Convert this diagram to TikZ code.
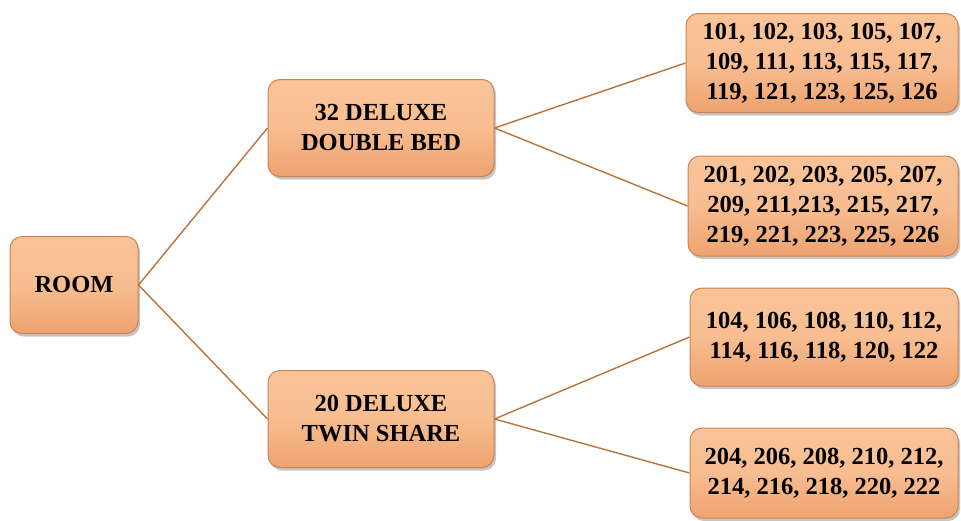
\documentclass[tikz,border=0pt]{standalone}
\usepackage{fontspec}
\setmainfont{Liberation Serif}[BoldFont={Liberation Serif Bold}]
\newfontfamily\tnrbold{Liberation Serif Bold}
\usetikzlibrary{shadows}
\definecolor{peachtop}{RGB}{250,196,152}
\definecolor{peachbot}{RGB}{238,162,112}
\definecolor{peachedge}{RGB}{205,130,80}
\definecolor{linkcol}{RGB}{185,115,60}
\tikzset{
  box/.style={rounded corners=12pt, draw=peachedge, line width=1pt,
    top color=peachtop, bottom color=peachbot, middle color=peachtop!80!peachbot,
    drop shadow={shadow xshift=2pt, shadow yshift=-3pt, fill=black!45, opacity=0.5},
    align=center, inner sep=0pt,
    font=\tnrbold\fontsize{24.5}{30}\selectfont, text=black},
  link/.style={draw=linkcol, line width=1.4pt}
}
\begin{document}
\begin{tikzpicture}[x=1pt,y=-1pt]
\useasboundingbox (0,0) rectangle (961,520);
\node[box, minimum width=128pt, minimum height=97pt] (room) at (74,285) {ROOM};
\node[box, minimum width=226pt, minimum height=97pt] (dbl) at (381,128) {32 DELUXE\\DOUBLE BED};
\node[box, minimum width=226pt, minimum height=97pt] (twin) at (381,419) {20 DELUXE\\TWIN SHARE};
\node[box, minimum width=272pt, minimum height=99pt] (r1) at (822,63) {101, 102, 103, 105, 107,\\109, 111, 113, 115, 117,\\119, 121, 123, 125, 126};
\node[box, minimum width=270pt, minimum height=100pt] (r2) at (823,206) {201, 202, 203, 205, 207,\\209, 211,213, 215, 217,\\219, 221, 223, 225, 226};
\node[box, minimum width=268pt, minimum height=98pt] (r3) at (824,337) {104, 106, 108, 110, 112,\\114, 116, 118, 120, 122};
\node[box, minimum width=268pt, minimum height=90pt] (r4) at (824,473) {204, 206, 208, 210, 212,\\214, 216, 218, 220, 222};
\draw[link] (room.east) -- (dbl.west);
\draw[link] (room.east) -- (twin.west);
\draw[link] (dbl.east) -- (r1.west);
\draw[link] (dbl.east) -- (r2.west);
\draw[link] (twin.east) -- (r3.west);
\draw[link] (twin.east) -- (r4.west);
\end{tikzpicture}
\end{document}
